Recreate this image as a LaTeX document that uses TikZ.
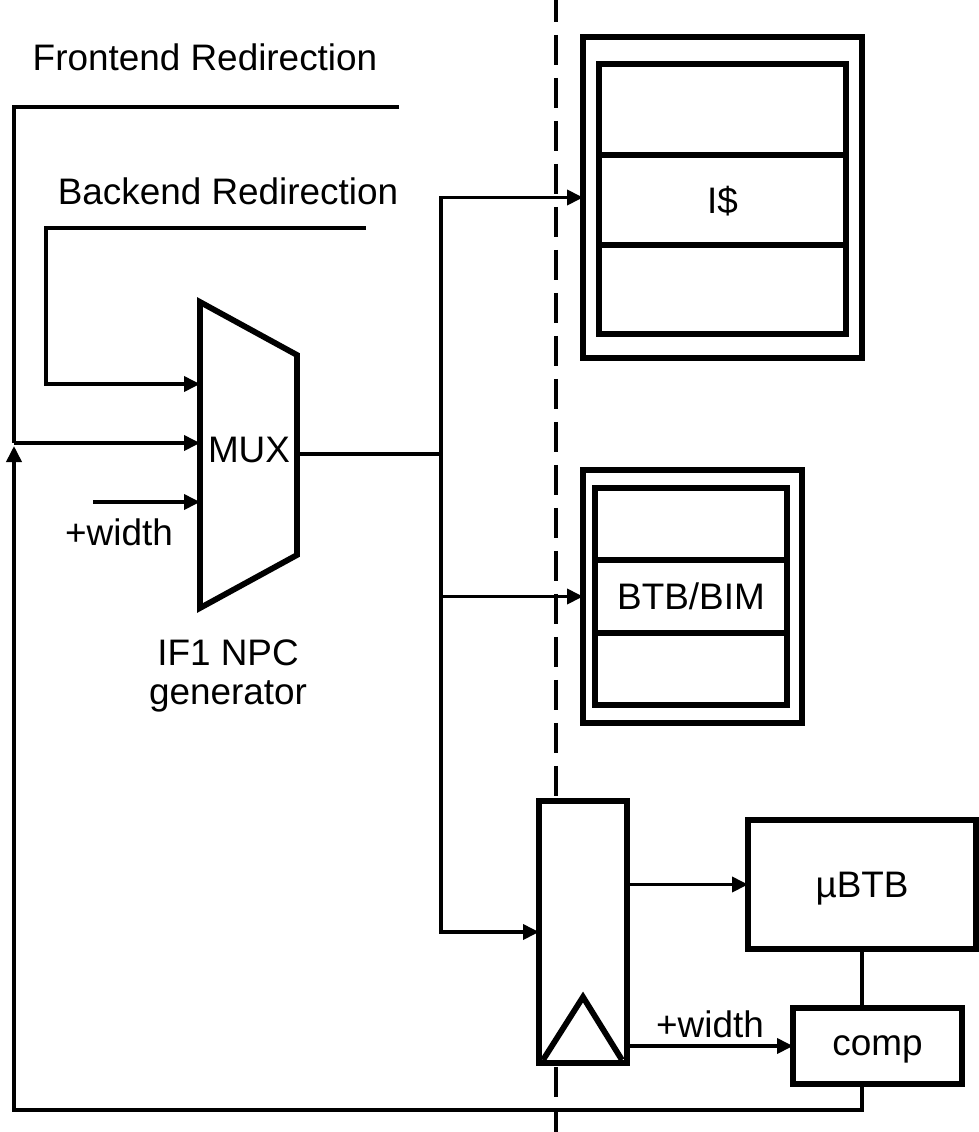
\documentclass[tikz,border=0pt]{standalone}
\usepackage{fontspec}
\setmainfont{Liberation Sans}
\usetikzlibrary{arrows.meta,positioning,calc}

\begin{document}
\begin{tikzpicture}[x=0.02cm, y=-0.02cm, >={Triangle[length=0.32cm,width=0.3cm]}, line width=2.1pt,
  font=\fontsize{21}{22}\selectfont,
  blk/.style={draw, line width=3.3pt, fill=white, inner sep=0pt, outer sep=0pt, text depth=0pt},
  lbl/.style={anchor=base, inner sep=0pt}]
  \useasboundingbox (0,0) rectangle (978,1132);
  \draw[dash pattern=on 0.6cm off 0.26cm] (556,-8) -- (556,1140);

  \node[lbl] (fe-lbl) at (205,71) {Frontend Redirection};
  \node[lbl] (be-lbl) at (228,204) {Backend Redirection};
  \coordinate (fe-end) at (399,107);
  \coordinate (be-end) at (366,228);
  \coordinate (be-turn) at (46,384);
  \coordinate (fb-join) at (14,443);
  \coordinate (fb-tip) at (14,446);
  \coordinate (fb-low) at (14,1110);

  \coordinate (mux-tl) at (200,302);
  \coordinate (mux-tr) at (297,355);
  \coordinate (mux-br) at (297,555);
  \coordinate (mux-bl) at (200,608);
  \draw[line width=3.3pt] (mux-tl) -- (mux-tr) -- (mux-br) -- (mux-bl) -- cycle;
  \node[lbl] (mux) at (249,462) {MUX};
  \coordinate (mux-in1) at (200,384);
  \coordinate (mux-in2) at (200,443);
  \coordinate (mux-in3) at (200,502);
  \coordinate (mux-out) at (297,454);
  \coordinate (w-start) at (93,502);
  \node[lbl] (w-lbl) at (119,545) {+width};
  \node[align=center, inner sep=0pt] (npc) at (228,676) {IF1 NPC\\generator};
  \coordinate (split) at (441,454);

  \node[blk, minimum width=5.58cm, minimum height=6.42cm] (icache) at (722.5,197.5) {};
  \node[blk, minimum width=4.94cm, minimum height=1.80cm] (icache-mid) at (722.5,200) {I\$};
  \node[blk, minimum width=4.94cm, minimum height=1.82cm, above=0pt of icache-mid] (icache-top) {};
  \node[blk, minimum width=4.94cm, minimum height=1.78cm, below=0pt of icache-mid] (icache-bot) {};

  \node[blk, minimum width=4.38cm, minimum height=5.06cm] (btb) at (692.5,596.5) {};
  \node[blk, minimum width=3.84cm, minimum height=1.46cm] (btb-mid) at (691,596.5) {BTB/BIM};
  \node[blk, minimum width=3.84cm, minimum height=1.44cm, above=0pt of btb-mid] (btb-top) {};
  \node[blk, minimum width=3.84cm, minimum height=1.44cm, below=0pt of btb-mid] (btb-bot) {};

  \node[blk, minimum width=1.76cm, minimum height=5.24cm] (reg) at (583,932) {};
  \draw[line width=3.3pt] (543,1060) -- (583,997) -- (622,1060);
  \node[blk, minimum width=4.56cm, minimum height=2.58cm] (ubtb) at (862,884.5) {µBTB};
  \node[blk, minimum width=3.38cm, minimum height=1.52cm] (comp) at (877.5,1046) {comp};

  \draw (fe-end) -| (fb-join);
  \draw[->] (fb-join) -- (mux-in2);
  \draw[->] (be-end) -| (be-turn) -- (mux-in1);
  \draw[->] (w-start) -- (mux-in3);
  \draw (mux-out) -- (split);
  \draw[->] (split) |- (icache.west);
  \draw[->] (split) |- (btb.west);
  \draw[->] (split) |- (reg.west);
  \draw[->] (reg.east |- ubtb.west) -- (ubtb.west);
  \draw[->] (reg.east |- comp.west) -- (comp.west) node[midway, above] {+width};
  \draw (ubtb.south) -- (ubtb.south |- comp.north);
  \draw[->] (ubtb.south |- comp.south) |- (fb-low) -- (fb-tip);
\end{tikzpicture}
\end{document}
